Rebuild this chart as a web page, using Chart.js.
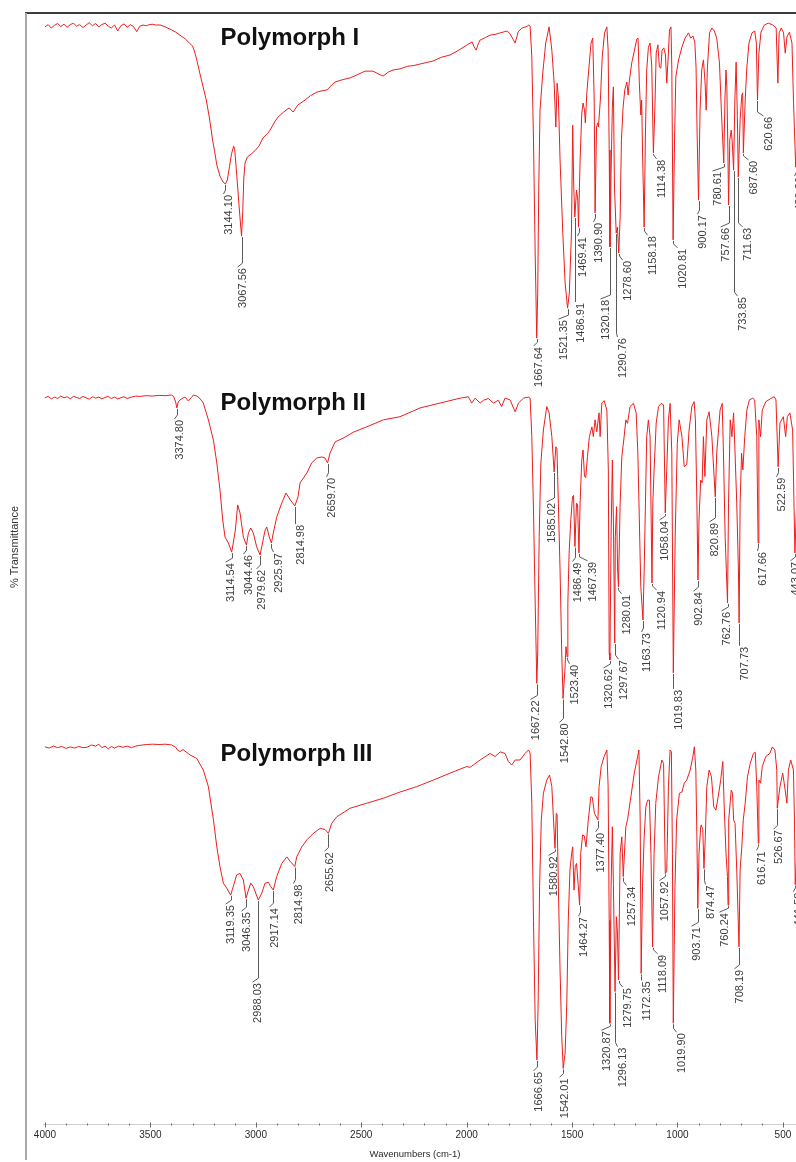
<!DOCTYPE html>
<html>
<head>
<meta charset="utf-8">
<title>FTIR spectra of three polymorphs</title>
<script src="https://cdn.jsdelivr.net/npm/chart.js@4.4.1/dist/chart.umd.min.js"></script>
<style>
  html, body { margin: 0; padding: 0; background: #fff; overflow: hidden; width: 796px; height: 1162px; }
  #wrap { position: absolute; left: 0; top: 0; width: 812px; height: 1162px; }
  canvas { display: block; }
</style>
</head>
<body>
<div id="wrap"><canvas id="ir" width="812" height="1162"></canvas></div>
<script>
// Spectra as [wavenumber (cm-1), % transmittance] pairs, high to low wavenumber.
const polymorphI = [
  [4000,96.3],[3985,96.9],[3970,96.0],[3955,96.7],[3940,97.2],[3925,96.4],[3910,97.0],[3895,96.2],[3880,96.9],[3865,97.3],
  [3850,96.5],[3835,96.9],[3820,96.1],[3805,96.8],[3790,97.4],[3775,96.6],[3760,97.2],[3745,96.3],[3730,96.9],[3715,97.3],
  [3700,96.5],[3685,96.0],[3670,96.8],[3655,95.2],[3640,96.6],[3625,97.1],[3610,96.2],[3595,96.9],[3580,96.4],[3565,95.0],
  [3550,96.5],[3535,96.8],[3520,96.6],[3505,96.9],[3490,97.0],[3475,96.8],[3454,96.8],[3430,96.3],[3400,95.5],[3380,94.9],
  [3360,94.1],[3335,93.1],[3315,92.0],[3300,91.2],[3290,89.6],[3280,87.5],[3265,83.8],[3250,80.3],[3235,76.8],[3220,72.0],
  [3205,66.1],[3195,63.0],[3185,59.5],[3170,56.5],[3155,54.9],[3144.10,54.4],[3135,55.5],[3125,59.0],[3115,62.5],[3105,64.5],
  [3100,63.5],[3095,60.0],[3088,55.0],[3080,49.0],[3073,44.0],[3067.56,40.5],[3062,47.0],[3057,56.0],[3051,60.0],[3040,61.6],
  [3020,62.5],[3004,63.3],[2985,64.5],[2966,66.7],[2945,67.8],[2932,68.8],[2910,71.0],[2894,72.3],[2870,73.5],[2842,74.7],
  [2823,73.6],[2800,75.5],[2766,76.8],[2740,78.0],[2710,78.9],[2690,79.2],[2662,79.5],[2640,80.8],[2624,81.6],[2590,82.2],
  [2553,82.7],[2520,83.5],[2482,84.5],[2444,84.5],[2420,83.8],[2396,83.2],[2370,84.3],[2349,84.8],[2316,85.1],[2280,85.8],
  [2250,86.0],[2221,86.4],[2190,86.8],[2159,87.2],[2120,88.2],[2079,88.8],[2040,90.0],[1998,91.5],[1974,92.3],[1965,91.0],
  [1955,90.1],[1945,91.8],[1936,92.8],[1910,93.5],[1889,94.1],[1865,94.3],[1841,94.7],[1808,95.2],[1795,94.5],[1780,93.0],
  [1770,92.0],[1760,94.0],[1756,95.0],[1737,96.0],[1720,96.3],[1713,96.5],[1705,96.8],[1699,96.5],[1691,88.3],[1683,66.1],
  [1675,36.0],[1667.64,13.3],[1663,25.3],[1658,53.6],[1652,74.1],[1639,84.0],[1625,92.0],[1609,96.3],[1596,90.1],[1585,81.3],
  [1577,69.6],[1571,81.3],[1565,77.6],[1557,60.8],[1544,41.3],[1533,28.0],[1521.35,21.3],[1513,25.3],[1503,41.3],[1497,70.1],
  [1492,53.6],[1486.91,45.6],[1479,52.8],[1473,50.1],[1469.41,42.9],[1462,60.8],[1454,73.3],[1448,76.0],[1441,74.1],[1437,70.7],
  [1430,78.7],[1421,84.8],[1410,92.0],[1402,93.3],[1395,76.8],[1390.90,46.7],[1384,69.6],[1378,70.7],[1375,69.6],[1365,77.6],
  [1357,88.3],[1346,94.7],[1335,96.3],[1329,90.1],[1324,63.5],[1320.18,37.6],[1315,57.3],[1309,74.9],[1304,80.3],[1299,53.6],
  [1290.76,41.3],[1285,42.9],[1278.60,36.0],[1272,45.6],[1266,66.1],[1258,74.9],[1250,79.5],[1240,81.6],[1234,78.1],[1228,82.1],
  [1217,86.7],[1204,90.1],[1193,93.1],[1187,93.3],[1181,81.3],[1174,72.8],[1170,76.8],[1165,60.8],[1158.18,42.9],[1152,68.0],
  [1146,84.8],[1138,90.9],[1130,92.0],[1122,85.6],[1114.38,62.7],[1107,74.9],[1101,89.3],[1093,91.5],[1086,85.6],[1079,85.3],
  [1073,90.1],[1065,90.7],[1057,88.8],[1051,81.3],[1044,88.3],[1038,95.5],[1031,96.3],[1027,85.6],[1020.81,39.5],[1014,66.1],
  [1008,82.9],[995,87.5],[979,90.9],[964,93.3],[948,94.7],[937,93.3],[927,93.9],[918,92.3],[912,85.6],[907,68.0],
  [900.17,50.1],[893,74.1],[885,84.8],[877,87.5],[869,81.3],[864,74.1],[858,85.6],[848,94.7],[837,96.0],[825,95.2],
  [814,93.3],[801,86.7],[792,74.1],[780.61,60.0],[775,76.8],[770,84.8],[766,80.3],[761,63.5],[757.66,48.8],[752,66.1],
  [745,68.8],[741,66.1],[733.85,58.1],[728,76.8],[722,86.9],[716,72.3],[711.63,56.3],[703,71.5],[695,78.1],[691,78.7],
  [687.60,62.7],[679,76.8],[671,85.6],[661,92.0],[647,94.7],[634,95.2],[626,92.0],[620.66,76.8],[614,89.3],[604,94.9],
  [588,96.8],[569,97.3],[548,96.8],[532,96.0],[524,81.3],[518,94.7],[508,96.0],[497,94.7],[489,89.3],[481,93.6],
  [469,94.9],[457,92.0],[450,76.8],[439.36,58.9],[430,71.5],[420,84.8],[410,88.8],[400,87.5]
];

const polymorphII = [
  [4000,97.2],[3985,97.6],[3970,96.9],[3955,97.4],[3940,97.0],[3925,97.7],[3910,97.2],[3895,97.5],[3880,96.9],[3865,97.6],
  [3850,97.3],[3835,97.0],[3820,97.6],[3805,97.2],[3790,96.8],[3775,97.5],[3760,97.1],[3745,97.4],[3730,96.9],[3715,97.3],
  [3700,97.6],[3685,97.0],[3670,97.4],[3655,96.9],[3640,97.2],[3625,97.5],[3610,97.0],[3590,97.4],[3570,97.7],[3550,97.6],
  [3520,97.8],[3490,97.7],[3460,97.9],[3430,97.8],[3400,98.0],[3390,97.6],[3380,96.0],[3374.80,94.3],[3368,96.0],[3359,96.6],
  [3345,97.2],[3336,97.4],[3320,96.3],[3305,97.3],[3296,98.0],[3280,97.7],[3265,97.0],[3249,95.7],[3225,90.9],[3201,85.1],
  [3185,78.6],[3170,70.9],[3157,62.3],[3146,57.4],[3130,55.7],[3114.54,53.1],[3107,55.7],[3097,59.4],[3086,66.6],[3075,64.3],
  [3059,57.4],[3044.46,55.1],[3035,58.6],[3024,60.0],[3012,58.6],[2996,54.6],[2979.62,52.3],[2972,54.6],[2956,59.4],[2948,60.3],
  [2936,57.4],[2925.97,55.7],[2917,58.6],[2901,63.1],[2877,67.1],[2857,70.0],[2836,68.0],[2814.98,66.3],[2800,68.9],[2790,72.9],
  [2758,75.7],[2735,78.6],[2711,80.0],[2687,80.3],[2672,80.0],[2659.70,78.6],[2648,81.4],[2624,84.6],[2585,85.7],[2537,87.4],
  [2474,88.9],[2395,90.9],[2316,91.8],[2221,94.3],[2126,95.7],[2031,97.1],[1992,97.5],[1976,95.7],[1960,97.1],[1936,95.7],
  [1920,96.5],[1897,97.0],[1873,95.7],[1850,96.5],[1834,94.7],[1818,97.1],[1794,96.6],[1770,93.2],[1754,95.7],[1730,97.1],
  [1707,97.4],[1699,97.1],[1691,86.1],[1683,65.1],[1675,38.6],[1667.22,15.6],[1663,24.3],[1656,57.5],[1648,78.6],[1636,88.0],
  [1620,94.7],[1609,92.9],[1596,86.1],[1585.02,76.0],[1577,83.2],[1572,82.9],[1565,67.1],[1557,48.0],[1549,24.3],[1542.80,11.3],
  [1534,19.4],[1529,26.1],[1523.40,23.2],[1520,38.6],[1514,52.9],[1506,62.3],[1498,68.9],[1493,69.3],[1486.49,54.7],[1479,67.1],
  [1474,66.6],[1467.39,52.9],[1462,67.1],[1454,79.4],[1448,82.3],[1441,74.7],[1435,74.4],[1427,80.4],[1418,86.1],[1406,88.9],
  [1399,86.1],[1391,90.9],[1383,87.5],[1372,92.9],[1367,86.1],[1359,95.7],[1348,96.4],[1335,93.7],[1328,76.6],[1324,24.3],
  [1320.62,22.3],[1315,57.5],[1309,79.4],[1304,62.0],[1297.67,27.1],[1295,57.5],[1289,66.1],[1284,48.0],[1280.01,43.2],[1272,67.1],
  [1264,80.4],[1253,86.1],[1245,90.9],[1237,89.9],[1225,94.7],[1209,95.6],[1196,92.9],[1188,81.4],[1181,62.3],[1174,43.2],
  [1163.73,33.7],[1158,48.0],[1152,67.1],[1146,86.1],[1138,90.9],[1130,86.1],[1120.94,44.3],[1117,67.1],[1111,76.6],[1101,90.0],
  [1090,94.7],[1077,95.6],[1066,95.2],[1058.04,64.3],[1051,76.6],[1043,90.9],[1035,95.6],[1027,81.4],[1019.83,18.6],[1011,57.5],
  [1001,84.2],[992,90.9],[979,86.1],[968,77.5],[956,78.1],[945,88.0],[932,94.7],[921,96.1],[915,90.9],[908,67.1],
  [902.84,45.1],[898,62.3],[890,73.7],[883,72.9],[877,86.1],[870,74.7],[861,90.9],[850,93.2],[837,86.1],[820.89,68.9],
  [814,81.4],[798,93.7],[788,95.6],[782,81.4],[774,57.5],[762.76,38.6],[758,67.1],[750,90.9],[742,86.1],[734,92.9],
  [727,81.4],[719,67.1],[711,48.0],[707.73,32.9],[703,67.1],[696,81.4],[690,76.6],[681,86.1],[671,93.7],[659,96.6],
  [643,97.1],[634,96.6],[624,86.1],[617.66,55.7],[614,90.9],[606,86.1],[598,93.7],[581,96.1],[557,97.0],[541,97.5],
  [533,96.6],[522.59,77.5],[514,90.0],[498,91.8],[487,86.1],[479,91.8],[467,92.9],[454,88.0],[443.07,52.9],[430,75.0],
  [415,88.0],[400,90.0]
];

const polymorphIII = [
  [4000,97.7],[3980,97.4],[3960,97.9],[3940,97.5],[3920,97.8],[3900,97.3],[3880,97.7],[3860,97.4],[3840,97.8],[3820,97.5],
  [3800,97.6],[3780,98.2],[3760,97.9],[3745,98.4],[3730,97.5],[3715,97.9],[3700,97.2],[3685,97.8],[3670,97.4],[3650,97.9],
  [3630,97.6],[3610,97.9],[3590,97.5],[3570,97.9],[3550,98.1],[3520,98.3],[3490,98.4],[3460,98.3],[3430,98.4],[3400,98.2],
  [3380,97.6],[3370,96.8],[3359,96.5],[3345,97.0],[3336,96.6],[3312,95.6],[3280,94.7],[3249,91.7],[3225,87.4],[3201,78.8],
  [3185,71.8],[3170,66.7],[3154,62.4],[3138,61.1],[3119.35,59.3],[3107,61.5],[3091,64.5],[3075,64.9],[3059,63.2],[3046.35,58.5],
  [3035,60.6],[3024,62.4],[3012,61.5],[2988.03,58.0],[2972,59.8],[2956,62.4],[2940,62.6],[2929,61.5],[2917.14,60.6],[2901,64.1],
  [2877,67.5],[2853,69.2],[2838,68.1],[2814.98,66.7],[2806,69.2],[2782,71.8],[2758,73.6],[2727,75.3],[2695,76.6],[2672,76.3],
  [2655.62,75.3],[2640,77.9],[2616,79.6],[2553,81.8],[2474,83.1],[2395,84.4],[2316,86.0],[2237,87.4],[2158,89.1],[2079,90.9],
  [2000,92.6],[1984,92.4],[1936,94.3],[1889,96.0],[1865,95.2],[1841,96.4],[1818,96.0],[1802,93.9],[1786,93.0],[1770,94.3],
  [1747,94.3],[1723,96.0],[1707,96.9],[1699,96.1],[1691,83.1],[1683,52.8],[1675,26.9],[1666.65,16.6],[1661,31.3],[1654,61.5],
  [1646,78.8],[1636,85.7],[1620,89.1],[1607,90.4],[1596,87.4],[1588,78.8],[1580.92,71.4],[1575,80.5],[1571,80.2],[1565,61.5],
  [1557,39.9],[1549,22.6],[1542.01,14.4],[1533,18.4],[1525,31.3],[1518,52.8],[1510,65.8],[1502,70.1],[1497,71.8],[1491,60.6],
  [1485,66.7],[1479,67.5],[1471,62.0],[1464.27,56.7],[1459,70.1],[1450,74.9],[1442,74.6],[1434,71.8],[1423,78.8],[1411,84.8],
  [1404,84.6],[1394,80.5],[1377.40,78.8],[1372,87.4],[1362,92.6],[1348,95.2],[1335,96.9],[1329,87.4],[1324,52.8],[1320.87,26.1],
  [1315,61.5],[1309,77.0],[1304,62.0],[1296.13,34.3],[1290,53.7],[1285,50.0],[1279.75,37.3],[1272,70.1],[1264,74.4],[1257.34,64.1],
  [1245,77.0],[1237,78.8],[1221,84.8],[1205,90.9],[1189,95.2],[1183,96.9],[1177,78.8],[1172.35,39.0],[1166,61.5],[1158,74.4],
  [1150,82.2],[1142,83.9],[1133,83.9],[1126,70.1],[1118.09,45.9],[1111,70.1],[1103,83.1],[1090,90.0],[1074,94.3],[1066,93.4],
  [1057.92,64.9],[1051,65.5],[1043,87.4],[1035,96.9],[1029,96.5],[1024,70.1],[1019.90,26.1],[1012,61.5],[1004,78.8],[991,85.7],
  [979,86.0],[968,88.3],[956,89.1],[940,91.7],[927,95.2],[920,97.7],[913,91.7],[908,74.4],[903.71,55.9],[898,70.1],
  [890,77.0],[887,77.5],[880,76.2],[874.47,66.2],[868,74.4],[861,87.4],[850,91.7],[839,90.0],[828,82.2],[818,81.3],
  [807,84.8],[795,89.1],[785,93.9],[779,83.1],[770,70.1],[763,64.1],[760.24,56.7],[757,78.8],[745,86.5],[739,85.7],
  [734,78.8],[727,77.9],[719,65.8],[708.19,45.9],[703,65.8],[695,71.8],[688,78.8],[679,83.1],[668,90.0],[655,93.4],
  [640,96.0],[631,96.3],[624,87.4],[616.71,72.7],[614,89.1],[606,88.3],[598,92.6],[581,95.2],[562,96.0],[550,97.7],
  [538,96.9],[529,91.7],[526.67,81.8],[514,87.4],[501,90.9],[494,88.3],[481,83.1],[474,91.7],[463,94.3],[450,91.7],
  [445,78.0],[441.58,62.0],[436,68.0],[428,77.0],[415,86.0],[400,88.0]
];

// Labelled band positions (cm-1) for each spectrum.
const peaksI = [3144.10, 3067.56, 1667.64, 1521.35, 1486.91, 1469.41, 1390.90, 1320.18, 1290.76, 1278.60,
  1158.18, 1114.38, 1020.81, 900.17, 780.61, 757.66, 733.85, 711.63, 687.60, 620.66, 439.36];
const peaksII = [3374.80, 3114.54, 3044.46, 2979.62, 2925.97, 2814.98, 2659.70, 1667.22, 1585.02, 1542.80,
  1523.40, 1486.49, 1467.39, 1320.62, 1297.67, 1280.01, 1163.73, 1120.94, 1058.04, 1019.83, 902.84, 820.89,
  762.76, 707.73, 617.66, 522.59, 443.07];
const peaksIII = [3119.35, 3046.35, 2988.03, 2917.14, 2814.98, 2655.62, 1666.65, 1580.92, 1542.01, 1464.27,
  1377.40, 1320.87, 1296.13, 1279.75, 1257.34, 1172.35, 1118.09, 1057.92, 1019.90, 903.71, 874.47, 760.24,
  708.19, 616.71, 526.67, 441.58];

const panelTitles = ['Polymorph I', 'Polymorph II', 'Polymorph III'];
const tickLabels = [4000, 3500, 3000, 2500, 2000, 1500, 1000, 500];

// Label placement: [drop below band tip (px), horizontal shift of the label (px)].
const placeI = [[11,2],[32,-1],[9,0],[12,-6],[86,4],[10,2],[10,2],[53,-6],[105,5],[8,7],
  [9,7],[7,7],[9,8],[15,2],[9,-8],[23,-5],[127,7],[51,8],[8,9],[17,10],[10,2]];
const placeII = [[12,1],[11,-3],[10,1],[15,0],[10,6],[19,4],[15,2],[17,-3],[31,-4],[25,0],
  [8,6],[16,1],[9,12],[9,-3],[17,7],[8,7],[13,2],[8,8],[8,-2],[17,4],[12,-1],[26,-2],
  [9,-3],[24,4],[9,3],[11,2],[9,-1]];
const placeIII = [[10,-2],[14,-1],[83,-2],[18,0],[18,2],[19,0],[12,0],[8,-3],[10,0],[12,2],
  [13,1],[8,-5],[56,6],[8,7],[10,7],[8,4],[8,8],[8,-2],[10,7],[19,-3],[17,5],[8,-5],
  [23,-1],[8,2],[22,0],[8,2]];

const LABEL_FONT = '11px "Liberation Sans", Arial, sans-serif';
const AXIS_FONT_FAMILY = '"Liberation Sans", Arial, sans-serif';

const panels = [
  { axis: 'yI', spectrum: polymorphI, peaks: peaksI, place: placeI },
  { axis: 'yII', spectrum: polymorphII, peaks: peaksII, place: placeII },
  { axis: 'yIII', spectrum: polymorphIII, peaks: peaksIII, place: placeIII }
];

// Plot frame: dark top rule, grey left rule, light bottom axis with small ticks.
const framePlugin = {
  id: 'frame',
  beforeDatasetsDraw(chart) {
    const { ctx, chartArea: a, scales: { x } } = chart;
    ctx.save();
    ctx.strokeStyle = '#3c3c3c';
    ctx.lineWidth = 2;
    ctx.beginPath(); ctx.moveTo(a.left - 1, a.top); ctx.lineTo(chart.width, a.top); ctx.stroke();
    ctx.strokeStyle = '#a9a9a9';
    ctx.beginPath(); ctx.moveTo(a.left, a.top); ctx.lineTo(a.left, chart.height - 2); ctx.stroke();
    const yb = Math.round(a.bottom) + 0.5;
    ctx.lineWidth = 1;
    ctx.strokeStyle = '#cfcfcf';
    ctx.beginPath(); ctx.moveTo(x.getPixelForValue(4000) - 2, yb); ctx.lineTo(a.right, yb); ctx.stroke();
    ctx.strokeStyle = '#6a6a6a';
    for (let w = 4000; w >= 400; w -= 100) {
      const px = Math.round(x.getPixelForValue(w)) + 0.5;
      const major = tickLabels.includes(w);
      ctx.beginPath();
      ctx.moveTo(px, yb - (major ? 2 : 1));
      ctx.lineTo(px, yb + (major ? 3 : 1));
      ctx.stroke();
    }
    ctx.restore();
  }
};

// Band labels with leader lines, panel titles and the vertical axis caption.
const annotatePlugin = {
  id: 'annotate',
  afterDatasetsDraw(chart) {
    const { ctx, scales } = chart;
    const xs = scales.x;
    ctx.save();
    ctx.lineWidth = 1;
    ctx.strokeStyle = '#5a5a5a';
    ctx.fillStyle = '#3f3f3f';
    ctx.font = LABEL_FONT;
    panels.forEach(p => {
      const ys = scales[p.axis];
      p.peaks.forEach((wn, j) => {
        const pt = p.spectrum.find(d => d[0] === wn);
        if (!pt) return;
        const px = Math.round(xs.getPixelForValue(wn)) + 0.5;
        const py = ys.getPixelForValue(pt[1]);
        const [drop, shift] = p.place[j];
        const top = py + drop;
        const xc = px + shift;
        ctx.beginPath();
        ctx.moveTo(px, py + 1);
        ctx.lineTo(px, Math.max(py + 1, top - 5));
        ctx.lineTo(xc - 4, top - 1);
        ctx.stroke();
        ctx.save();
        ctx.translate(xc + 1, top);
        ctx.rotate(-Math.PI / 2);
        ctx.textAlign = 'right';
        ctx.textBaseline = 'middle';
        ctx.fillText(wn.toFixed(2), 0, 0);
        ctx.restore();
      });
    });

    // Panel titles
    ctx.fillStyle = '#111';
    ctx.font = 'bold 24px "Liberation Sans", Arial, sans-serif';
    ctx.textAlign = 'left';
    ctx.textBaseline = 'alphabetic';
    const titleY = [45, 410, 761];
    panelTitles.forEach((t, i) => ctx.fillText(t, 220.5, titleY[i]));

    // Vertical axis caption
    ctx.save();
    ctx.fillStyle = '#333';
    ctx.font = '11px "Liberation Sans", Arial, sans-serif';
    ctx.translate(15, 547);
    ctx.rotate(-Math.PI / 2);
    ctx.textAlign = 'center';
    ctx.textBaseline = 'middle';
    ctx.fillText('% Transmittance', 0, 0);
    ctx.restore();
    ctx.restore();
  }
};

const lineStyle = {
  borderColor: '#ee1c1c',
  borderWidth: 1,
  pointRadius: 0,
  tension: 0,
  fill: false,
  clip: false
};

new Chart(document.getElementById('ir'), {
  type: 'line',
  data: {
    datasets: [
      { label: panelTitles[0], data: polymorphI.map(d => ({ x: d[0], y: d[1] })), yAxisID: 'yI', ...lineStyle },
      { label: panelTitles[1], data: polymorphII.map(d => ({ x: d[0], y: d[1] })), yAxisID: 'yII', ...lineStyle },
      { label: panelTitles[2], data: polymorphIII.map(d => ({ x: d[0], y: d[1] })), yAxisID: 'yIII', ...lineStyle }
    ]
  },
  options: {
    responsive: false,
    animation: false,
    devicePixelRatio: 1,
    layout: { padding: { left: 26, right: 8, top: 13, bottom: 0 } },
    plugins: { legend: { display: false }, tooltip: { enabled: false } },
    scales: {
      x: {
        type: 'linear',
        reverse: true,
        min: 400,
        max: 4090,
        afterBuildTicks: scale => { scale.ticks = tickLabels.map(v => ({ value: v })); },
        afterFit: scale => { scale.height = 38; },
        grid: { display: false, drawTicks: false },
        border: { display: false },
        ticks: {
          autoSkip: false,
          maxRotation: 0,
          padding: 5,
          color: '#2a2a2a',
          font: { family: AXIS_FONT_FAMILY, size: 10 },
          callback: v => String(Math.round(v))
        },
        title: {
          display: true,
          text: 'Wavenumbers (cm-1)',
          color: '#2a2a2a',
          font: { family: AXIS_FONT_FAMILY, size: 9.5 },
          padding: { top: 2, bottom: 2 }
        }
      },
      yI:   { type: 'linear', position: 'right', stack: 'ir', stackWeight: 375, min: 0, max: 100, display: false },
      yII:  { type: 'linear', position: 'right', stack: 'ir', stackWeight: 350, min: 0, max: 100, display: false },
      yIII: { type: 'linear', position: 'right', stack: 'ir', stackWeight: 386, min: 0, max: 100, display: false }
    }
  },
  plugins: [framePlugin, annotatePlugin]
});
</script>
</body>
</html>
